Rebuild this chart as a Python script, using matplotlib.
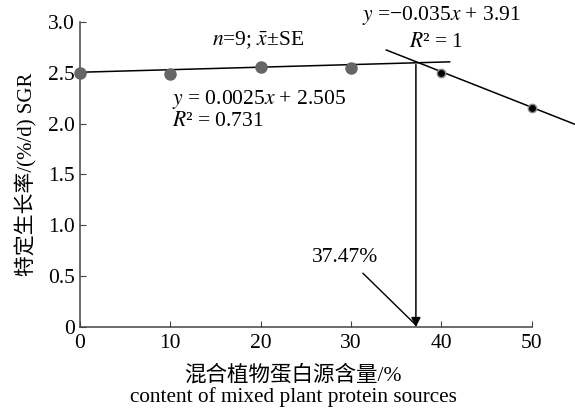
import matplotlib
matplotlib.use('Agg')
import matplotlib.pyplot as plt
import numpy as np

plt.rcParams['font.family'] = ['Liberation Serif', 'Noto Sans CJK SC']
plt.rcParams['mathtext.fontset'] = 'stix'

# measured SGR values
x_low = [0, 10, 20, 30]
sgr_low = [2.50, 2.49, 2.56, 2.55]
x_high = [40, 50]
sgr_high = [2.50, 2.15]

# fitted lines
slope1, icpt1 = 0.0025, 2.505
slope2, icpt2 = -0.035, 3.91
fit1_range = [0, 40.9]
fit2_range = [33.9, 54.7]
x_break = 37.47

fig = plt.figure(figsize=(5.75, 4.13), dpi=100)
ax = fig.add_axes([0.139, 0.208, 0.786, 0.739])

fs = 15.5
xs = np.array(fit1_range)
ax.plot(xs, slope1 * xs + icpt1, color='black', lw=1.1, clip_on=False, zorder=2)
xs = np.array(fit2_range)
ax.plot(xs, slope2 * xs + icpt2, color='black', lw=1.1, clip_on=False, zorder=2)

ax.plot(x_low, sgr_low, 'o', color='#666666', ms=8, clip_on=False, zorder=3)
ax.plot(x_high, sgr_high, 'o', mfc='black', mec='#888888', mew=1, ms=6, clip_on=False, zorder=3)

# vertical arrow at the break point
y_top = 2.58
ax.annotate('', xy=(x_break - 0.3, 0), xytext=(x_break - 0.3, y_top),
            arrowprops=dict(arrowstyle='-|>', color='black', lw=1.1,
                            mutation_scale=14, shrinkA=0, shrinkB=0))
ax.text(29.3, 0.68, '37.47%', fontsize=fs, ha='center', va='center')
ax.annotate('', xy=(x_break - 0.3, 0.02), xytext=(31.3, 0.53),
            arrowprops=dict(arrowstyle='-', color='black', lw=1.0,
                            shrinkA=0, shrinkB=0))

ax.text(19.7, 2.82, r'$n$=9; $\bar{x}$±SE', fontsize=fs, ha='center', va='center')
ax.text(10.2, 2.24, r'$y$ = 0.0025$x$ + 2.505', fontsize=fs, ha='left', va='center')
ax.text(10.2, 2.02, r'$R$² = 0.731', fontsize=fs, ha='left', va='center')
ax.text(31.2, 3.06, r'$y$ =−0.035$x$ + 3.91', fontsize=fs, ha='left', va='center', clip_on=False)
ax.text(36.4, 2.80, r'$R$² = 1', fontsize=fs, ha='left', va='center')

ax.set_xlim(0, 50)
ax.set_ylim(0, 3.0)
ax.set_xticks([0, 10, 20, 30, 40, 50])
ax.set_yticks([0, 0.5, 1.0, 1.5, 2.0, 2.5, 3.0])
ax.set_yticklabels(['0', '0.5', '1.0', '1.5', '2.0', '2.5', '3.0'])
ax.tick_params(direction='in', labelsize=fs, length=4, color='#444444')
ax.tick_params(axis='x', pad=5)
for s in ['top', 'right']:
    ax.spines[s].set_visible(False)
for s in ['left', 'bottom']:
    ax.spines[s].set_color('#444444')
    ax.spines[s].set_linewidth(1.1)

ax.set_ylabel('特定生长率/(%/d) SGR', fontsize=15, labelpad=8)
fig.text(0.51, 0.092, '混合植物蛋白源含量/%', fontsize=15.5, ha='center', va='center')
fig.text(0.51, 0.038, 'content of mixed plant protein sources', fontsize=15.3, ha='center', va='center')

fig.savefig('out.png', dpi=100)
